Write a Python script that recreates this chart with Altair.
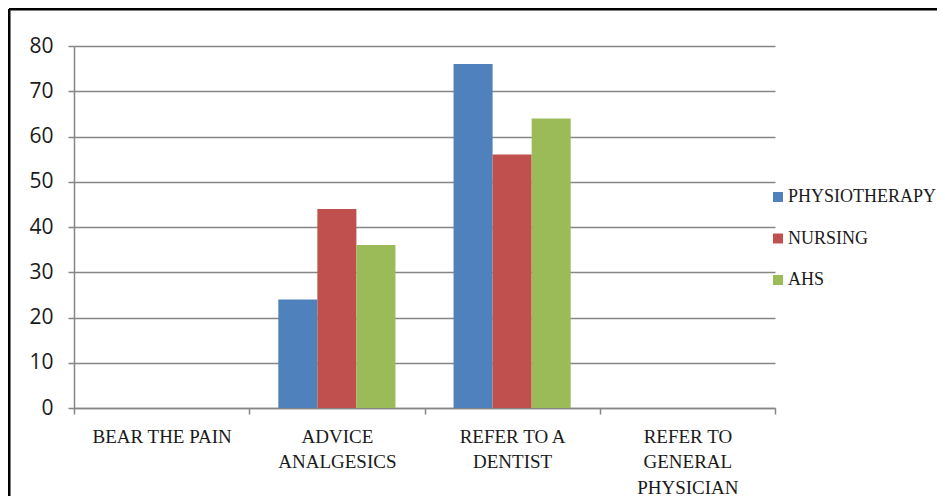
import altair as alt
import pandas as pd

categories = ["BEAR THE PAIN", "ADVICE|ANALGESICS", "REFER TO A|DENTIST", "REFER TO|GENERAL|PHYSICIAN"]
series = ["PHYSIOTHERAPY", "NURSING", "AHS"]
physiotherapy = [0, 24, 76, 0]
nursing = [0, 44, 56, 0]
ahs = [0, 36, 64, 0]
colors = ["#4F81BD", "#C0504D", "#9BBB59"]
y_ticks = [0, 10, 20, 30, 40, 50, 60, 70, 80]

rows = []
for name, vals in zip(series, [physiotherapy, nursing, ahs]):
    for c, v in zip(categories, vals):
        rows.append({"category": c, "group": name, "value": v})
df = pd.DataFrame(rows)

GRAY = "#868686"

bars = alt.Chart(df).mark_bar().encode(
    x=alt.X(
        "category:N",
        sort=categories,
        scale=alt.Scale(paddingInner=0, paddingOuter=0),
        axis=alt.Axis(
            title=None,
            labelExpr="split(datum.label, '|')",
            labelAngle=0,
            tickBand="extent",
            tickSize=6,
            tickColor=GRAY,
            tickWidth=1.5,
            domainColor=GRAY,
            domainWidth=1.5,
            labelFont="Liberation Serif",
            labelFontSize=19,
            labelColor="#1a1a1a",
            labelLineHeight=25.5,
            labelPadding=13,
            labelOverlap=False,
            grid=False,
        ),
    ),
    xOffset=alt.XOffset("group:N", sort=series, scale=alt.Scale(paddingInner=0, paddingOuter=0.744)),
    y=alt.Y(
        "value:Q",
        scale=alt.Scale(domain=[0, 80], nice=False),
        axis=alt.Axis(
            values=y_ticks,
            title=None,
            tickSize=6,
            tickColor=GRAY,
            tickWidth=1.5,
            domainColor=GRAY,
            domainWidth=1.5,
            gridColor=GRAY,
            gridWidth=1.7,
            labelFont="Open Sans",
            labelFontSize=21,
            labelColor="#1a1a1a",
            labelPadding=15,
        ),
    ),
    color=alt.Color(
        "group:N",
        sort=series,
        scale=alt.Scale(domain=series, range=colors),
        legend=alt.Legend(
            title=None,
            orient="none",
            legendX=695,
            legendY=142,
            symbolType="square",
            symbolSize=100,
            symbolStrokeWidth=0,
            labelFont="Liberation Serif",
            labelFontSize=18,
            labelColor="#1a1a1a",
            labelLimit=300,
            rowPadding=23.5,
            labelOffset=1,
            padding=0,
        ),
    ),
)

frame_df = pd.DataFrame({"a": [0]})
frame_top = alt.Chart(frame_df).mark_rule(color="black", strokeWidth=3).encode(
    x=alt.value(-65), x2=alt.value(900), y=alt.value(-37)
)
frame_left = alt.Chart(frame_df).mark_rule(color="black", strokeWidth=3).encode(
    x=alt.value(-65), y=alt.value(-37), y2=alt.value(500)
)

chart = alt.layer(frame_top, frame_left, bars).properties(
    width=701,
    height=362,
    autosize=alt.AutoSizeParams(type="none"),
    padding={"left": 66, "top": 38, "right": 162, "bottom": 88},
).configure_view(strokeWidth=0)

chart.save("out.html", embed_options={"renderer": "svg", "actions": False})
